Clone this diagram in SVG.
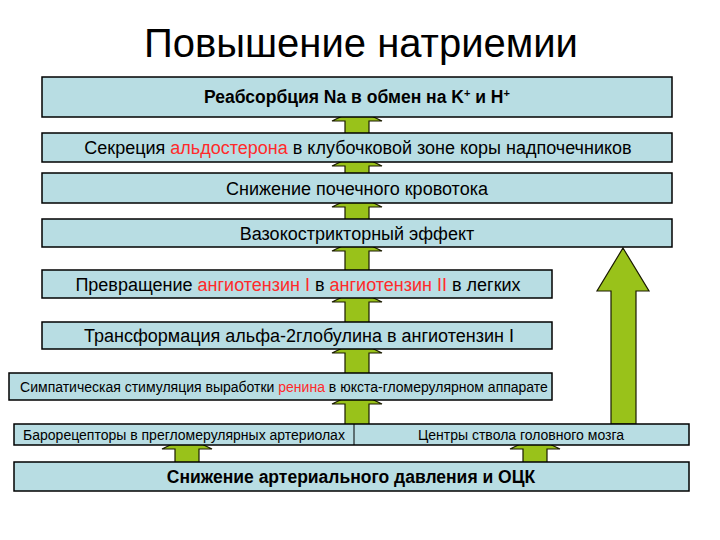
<svg xmlns="http://www.w3.org/2000/svg" width="720" height="540" viewBox="0 0 720 540">
<style>
.box{fill:#b8dde3;stroke:#000;stroke-width:1.5}
.arr{fill:#99c21a;stroke:#1a1a00;stroke-width:1.2;stroke-linejoin:miter}
text{font-family:"Liberation Sans",Arial,sans-serif;fill:#000;text-anchor:middle}
.t{font-size:18px}
.b{font-size:17.5px;font-weight:bold}
.s{font-size:14px}
.r{fill:#ff2a2a}
.title{font-size:40px}
</style>
<rect width="720" height="540" fill="#fff"/>
<text class="title" x="361" y="57">Повышение натриемии</text>
<g id="connectors">
<polygon class="arr" points="357,109 382,121 369,121 369,134 345,134 345,121 332,121"/>
<polygon class="arr" points="357,154 382,166 369,166 369,174 345,174 345,166 332,166"/>
<polygon class="arr" points="357,195 382,207 369,207 369,220 345,220 345,207 332,207"/>
<polygon class="arr" points="357,239 382,251 369,251 369,271 345,271 345,251 332,251"/>
<polygon class="arr" points="357,290 382,302 369,302 369,323 345,323 345,302 332,302"/>
<polygon class="arr" points="357,341 382,353 369,353 369,374 345,374 345,353 332,353"/>
<polygon class="arr" points="357,392 382,404 369,404 369,425 345,425 345,404 332,404"/>
<polygon class="arr" points="187,437 212,449 199,449 199,463 175,463 175,449 162,449"/>
<polygon class="arr" points="535,437 560,449 547,449 547,463 523,463 523,449 510,449"/>
<polygon class="arr" points="623,248 649,291 636,291 636,424 611,424 611,291 597,291"/>
</g>
<g id="n1"><rect class="box" x="42" y="77" width="630" height="40"/>
<text class="b" x="357" y="103">Реабсорбция Na в обмен на K<tspan dy="-6" font-size="11">+</tspan><tspan dy="6"> и H</tspan><tspan dy="-6" font-size="11">+</tspan></text></g>
<g id="n2"><rect class="box" x="42" y="133" width="630" height="29"/>
<text class="t" x="358" y="154">Секреция <tspan class="r">альдостерона</tspan> в клубочковой зоне коры надпочечников</text></g>
<g id="n3"><rect class="box" x="42" y="173" width="630" height="30"/>
<text class="t" x="357" y="195">Снижение почечного кровотока</text></g>
<g id="n4"><rect class="box" x="42" y="219" width="630" height="28"/>
<text class="t" x="357" y="240">Вазокострикторный эффект</text></g>
<g id="n5"><rect class="box" x="42" y="270" width="510" height="28"/>
<text class="t" x="298" y="291">Превращение <tspan class="r">ангиотензин I</tspan> в <tspan class="r">ангиотензин II</tspan> в легких</text></g>
<g id="n6"><rect class="box" x="42" y="322" width="510" height="27"/>
<text class="t" x="299" y="342">Трансформация альфа-2глобулина в ангиотензин I</text></g>
<g id="n7"><rect class="box" x="9" y="373" width="543" height="27"/>
<text class="s" x="284" y="392">Симпатическая стимуляция выработки <tspan class="r">ренина</tspan> в юкста-гломерулярном аппарате</text></g>
<g id="n8"><rect class="box" x="14" y="424" width="675" height="21"/>
<line x1="354" y1="424" x2="354" y2="445" stroke="#000" stroke-width="1"/>
<text class="s" x="184" y="440">Барорецепторы в прегломерулярных артериолах</text>
<text class="s" x="521" y="440">Центры ствола головного мозга</text></g>
<g id="n9"><rect class="box" x="14" y="462" width="675" height="29"/>
<text class="b" x="351" y="483" font-size="19">Снижение артериального давления и ОЦК</text></g>
</svg>
